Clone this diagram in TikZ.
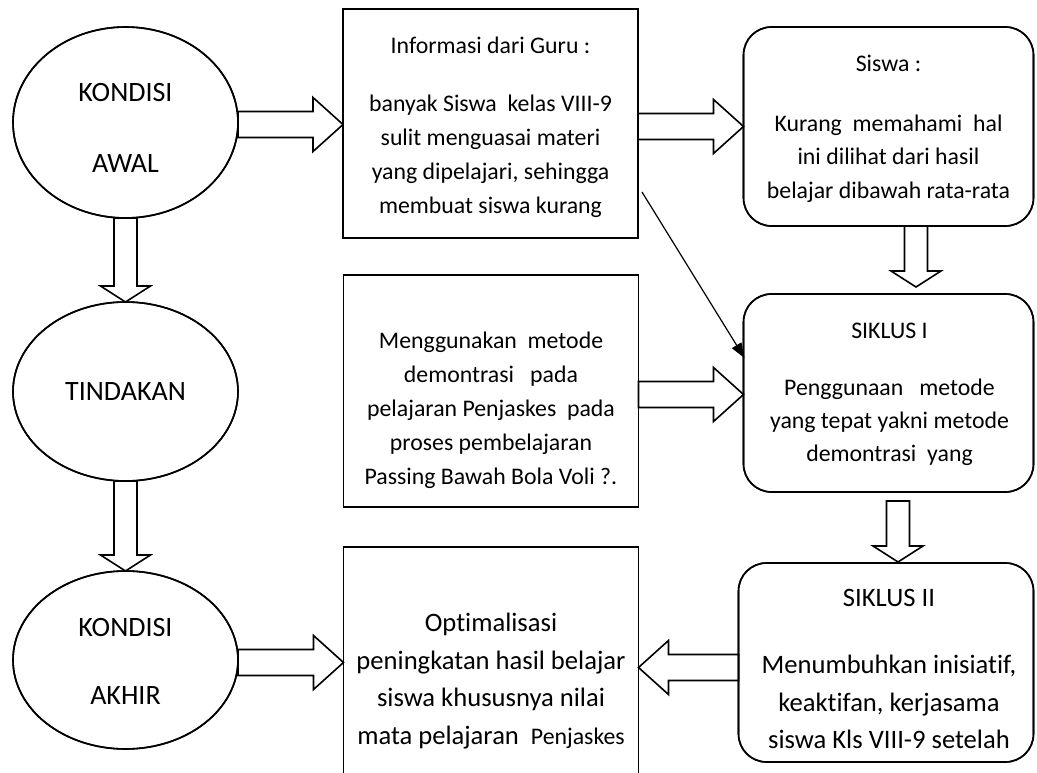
\documentclass[tikz,border=0pt]{standalone}
\usepackage{fontspec}
\setmainfont{Carlito}[Ligatures={NoCommon}]
\usetikzlibrary{shapes.geometric,calc,arrows.meta}
\tikzset{
  outl/.style={draw, line width=1.6pt, inner sep=0pt, outer sep=0pt},
  ell/.style={outl, ellipse, minimum width=225pt},
  sqbox/.style={outl, rectangle, minimum width=295pt},
  rbox/.style={outl, rectangle, rounded corners=28pt, minimum width=290pt},
  txt/.style={inner sep=0pt, outer sep=0pt, align=center},
  barrow/.style={draw, fill=white, line width=1.6pt, line join=miter},
  blk/.style n args={3}{to path={
    let \p1=(\tikztostart), \p2=(\tikztotarget),
        \n1={atan2(\y2-\y1,\x2-\x1)},
        \n2={veclen(\x2-\x1,\y2-\y1)-#3}
    in ($(\p1)+(\n1+90:#1pt)$) -- ($(\p1)+(\n1:\n2)+(\n1+90:#1pt)$)
    -- ($(\p1)+(\n1:\n2)+(\n1+90:#2pt)$) -- (\p2)
    -- ($(\p1)+(\n1:\n2)+(\n1-90:#2pt)$) -- ($(\p1)+(\n1:\n2)+(\n1-90:#1pt)$)
    -- ($(\p1)+(\n1-90:#1pt)$) -- cycle}},
  hblk/.style={blk={13}{27}{30}},
  vblk/.style={blk={11.5}{25}{16}},
  thinarrow/.style={line width=1.2pt, -{Triangle[length=15pt,width=11pt]}},
}
\begin{document}
\begin{tikzpicture}[x=1pt,y=-1pt]
\path[use as bounding box] (0,0) rectangle (1037,773);
\clip (0,0) rectangle (1037,773);
\fill[white] (0,0) rectangle (1037,773);

% shapes (positions)
\path
  (125.5,122.5) node[ell, minimum height=191pt] (E1) {}
  (125.5,391.5) node[ell, minimum height=179pt] (E2) {}
  (125.5,660)   node[ell, minimum height=178pt] (E3) {}
  (490.5,123.5) node[sqbox, minimum height=229pt] (B1) {}
  (491,391)     node[sqbox, minimum height=232pt] (B3) {}
  (491,678.5)   node[sqbox, minimum height=263pt] (B4) {}
  (888.5,126.5) node[rbox, minimum height=199pt] (B2) {}
  (888.5,393)   node[rbox, minimum height=198pt] (S1) {}
  (886,662.5)   node[rbox, minimum width=295pt, minimum height=199pt] (S2) {};

% arrow anchor points
\coordinate (a1) at ([yshift=-2pt]E1.east);
\coordinate (a2) at ([yshift=-3pt]B1.east);
\coordinate (a4) at ([yshift=-3.5pt]B3.east);
\coordinate (a6) at ([yshift=-5pt]S2.west);
\coordinate (a7) at ([yshift=-2.5pt]E3.east);

% block arrows
\draw[barrow] (a1) to[hblk] (a1 -| B1.west);
\draw[barrow] (a2) to[hblk] (a2 -| B2.west);
\draw[barrow] (a4) to[hblk] (a4 -| S1.west);
\draw[barrow] (a6) to[hblk] (a6 -| B4.east);
\draw[barrow] (a7) to[hblk] (a7 -| B4.west);
\draw[barrow] (E1.south) to[vblk] (E2.north);
\draw[barrow] (E2.south) to[vblk] (E3.north);
\draw[barrow] ([xshift=27.5pt]B2.south) to[vblk] ([xshift=27.5pt,yshift=7pt]S1.north);
\draw[barrow] ([xshift=9.5pt,yshift=-9pt]S1.south) to[vblk] ([xshift=12pt,yshift=1pt]S2.north);

% redraw outlines on top of the arrows
\path
  (E1) node[ell, minimum height=191pt] {}
  (E2) node[ell, minimum height=179pt] {}
  (E3) node[ell, minimum height=178pt] {}
  (B1) node[sqbox, minimum height=229pt] {}
  (B3) node[sqbox, minimum height=232pt] {}
  (B4) node[sqbox, minimum height=263pt] {}
  (B2) node[rbox, minimum height=199pt] {}
  (S1) node[rbox, minimum height=198pt] {}
  (S2) node[rbox, minimum width=295pt, minimum height=199pt] {};

% thin arrow
\draw[thinarrow] ([xshift=4pt,yshift=46pt]B1.south east) -- ([xshift=1pt,yshift=35pt]S1.west);

% texts
\node[txt, font=\fontsize{28}{71}\selectfont] (tE1) at (125.5,127.5) {KONDISI\\AWAL};
\node[txt, font=\fontsize{28}{70}\selectfont] (tE2) at (125.5,392) {TINDAKAN};
\node[txt, font=\fontsize{28}{68}\selectfont] (tE3) at (125.5,661) {KONDISI\\AKHIR};

\node[txt, font=\fontsize{23.8}{34}\selectfont] (tB1) at (490.5,127)
  {Informasi dari Guru :\\[24pt]banyak Siswa\ \ kelas VIII-9\\sulit menguasai materi\\yang dipelajari, sehingga\\membuat siswa kurang};
\node[txt, font=\fontsize{23.8}{33.5}\selectfont] (tB2) at (888.5,128.5)
  {Siswa :\\[26.5pt]Kurang\ \ memahami\ \ hal\\ini dilihat dari hasil\\belajar dibawah rata-rata};
\node[txt, font=\fontsize{23.8}{34}\selectfont] (tB3) at (491,410)
  {Menggunakan\ \ metode\\demontrasi\ \ \ pada\\pelajaran Penjaskes\ \ pada\\proses pembelajaran\\Passing Bawah Bola Voli ?.};
\node[txt, font=\fontsize{23.8}{33}\selectfont] (tS1) at (889.5,394)
  {SIKLUS I\\[24pt]Penggunaan\ \ \ metode\\yang tepat yakni metode\\demontrasi\ \ yang};
\node[txt, font=\fontsize{26.6}{37.5}\selectfont] (tB4) at (491,681)
  {Optimalisasi\\peningkatan hasil belajar\\siswa khususnya nilai\\mata pelajaran\ \ {\fontsize{23.8}{37.5}\selectfont Penjaskes}};
\node[txt, font=\fontsize{26.6}{37.5}\selectfont] (tS2) at (889,669)
  {SIKLUS II\\[29.5pt]Menumbuhkan inisiatif,\\keaktifan, kerjasama\\siswa Kls VIII-9 setelah};
\end{tikzpicture}
\end{document}
